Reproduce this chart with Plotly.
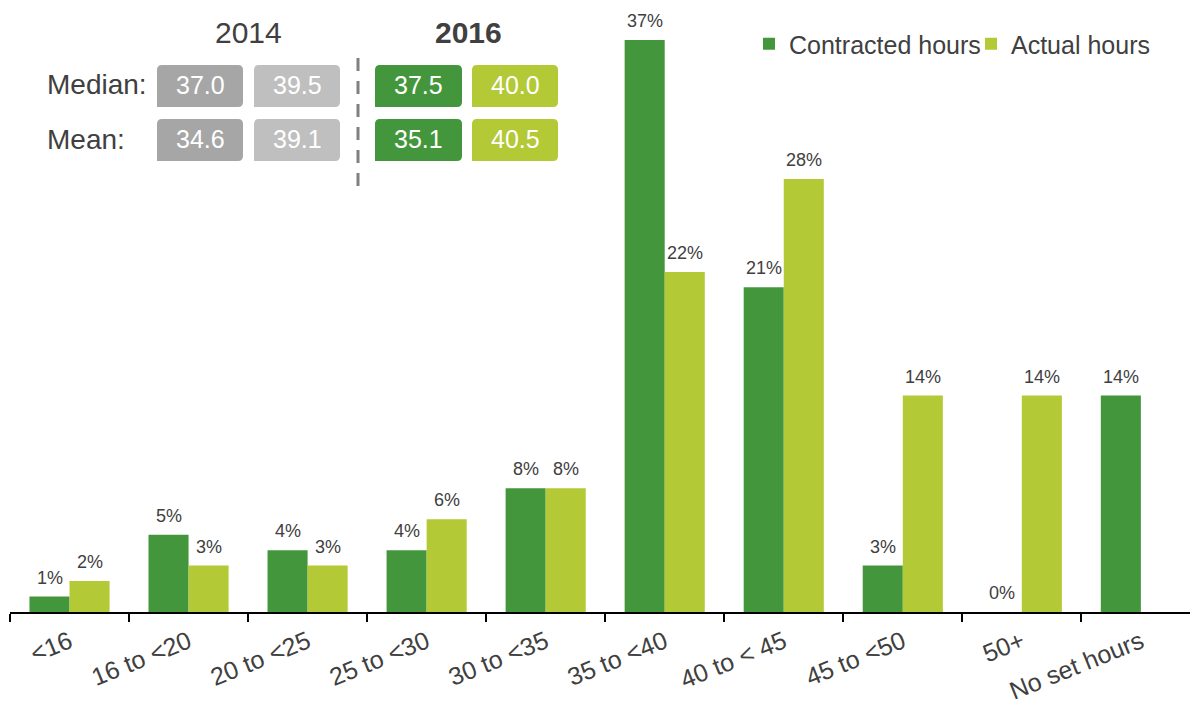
import plotly.graph_objects as go

categories = ["<16", "16 to <20", "20 to <25", "25 to <30", "30 to <35",
              "35 to <40", "40 to < 45", "45 to <50", "50+", "No set hours"]
contracted = [1, 5, 4, 4, 8, 37, 21, 3, 0, 14]
actual = [2, 3, 3, 6, 8, 22, 28, 14, 14, None]

years = ["2014", "2016"]
stat_labels = ["Median:", "Mean:"]
values_2014 = [[37.0, 39.5], [34.6, 39.1]]
values_2016 = [[37.5, 40.0], [35.1, 40.5]]

GREEN = "#43963C"
LIME = "#B3C936"
GRAY_D = "#A6A6A6"
GRAY_L = "#BFBFBF"
TXT = "#404040"
FONT = "Liberation Sans, Arial, sans-serif"

# page body has an 8px default margin; work in screen pixels
OFF = 8
W, H = 1198 - OFF, 707 - OFF
PLOT_L, PLOT_R, PLOT_T, PLOT_B = 10, 1198, 10, 612  # screen pixels
ML, MR = PLOT_L - OFF, 1198 - PLOT_R
MT, MB = PLOT_T - OFF, 707 - PLOT_B
PW = PLOT_R - PLOT_L
PH = PLOT_B - PLOT_T
PX_PER_PCT = 15.46
BAR_HALF = 20


def px(x):
    return (x - PLOT_L) / PW


def py(y):
    return (PLOT_B - y) / PH


def rounded_box(x0, y0, x1, y1, r=5):
    # rounded top-left, top-right, bottom-right; square bottom-left
    rx = r / PW
    ry = r / PH
    X0, X1 = px(x0), px(x1)
    Y0, Y1 = py(y0), py(y1)
    return (f"M {X0},{Y1} L {X0},{Y0 - ry} Q {X0},{Y0} {X0 + rx},{Y0} "
            f"L {X1 - rx},{Y0} Q {X1},{Y0} {X1},{Y0 - ry} "
            f"L {X1},{Y1 + ry} Q {X1},{Y1} {X1 - rx},{Y1} Z")


fig = go.Figure()
fig.add_trace(go.Bar(x=categories, y=contracted, name="Contracted hours",
                     marker=dict(color=GREEN, line=dict(width=0)), hoverinfo="x+y"))
fig.add_trace(go.Bar(x=categories, y=actual, name="Actual hours",
                     marker=dict(color=LIME, line=dict(width=0)), hoverinfo="x+y"))

shapes = []
annotations = []

# value labels above bars
for series, shift in ((contracted, -BAR_HALF), (actual, BAR_HALF)):
    for cat, v in zip(categories, series):
        if v is None:
            continue
        annotations.append(dict(x=cat, y=v, xref="x", yref="y", text=f"{v}%",
                                showarrow=False, xshift=shift, yshift=7,
                                xanchor="center", yanchor="bottom",
                                font=dict(size=18, color=TXT, family=FONT)))

# year headers
annotations.append(dict(x=px(248), y=py(32), xref="paper", yref="paper",
                        text=years[0], showarrow=False, xanchor="center", yanchor="middle",
                        font=dict(size=30, color=TXT, family=FONT)))
annotations.append(dict(x=px(468), y=py(32), xref="paper", yref="paper",
                        text=f"<b>{years[1]}</b>", showarrow=False,
                        xanchor="center", yanchor="middle",
                        font=dict(size=30, color=TXT, family=FONT)))

row_y = [(65, 107), (119, 161)]
col_x = [(157, 243), (254, 340), (375, 462), (472, 558)]
col_colors = [GRAY_D, GRAY_L, GREEN, LIME]

for ri, (ya, yb) in enumerate(row_y):
    annotations.append(dict(x=px(45), y=py((ya + yb) / 2 - 1), xref="paper", yref="paper",
                            text=stat_labels[ri], showarrow=False,
                            xanchor="left", yanchor="middle",
                            font=dict(size=28, color=TXT, family=FONT)))
    vals = values_2014[ri] + values_2016[ri]
    for ci, (xa, xb) in enumerate(col_x):
        shapes.append(dict(type="path", xref="paper", yref="paper",
                           path=rounded_box(xa, ya, xb, yb),
                           fillcolor=col_colors[ci], line=dict(width=0)))
        annotations.append(dict(x=px((xa + xb) / 2), y=py((ya + yb) / 2 - 1),
                                xref="paper", yref="paper",
                                text=f"{vals[ci]:.1f}", showarrow=False,
                                xanchor="center", yanchor="middle",
                                font=dict(size=25, color="white", family=FONT)))

shapes.append(dict(type="line", xref="paper", yref="paper",
                   x0=px(358), x1=px(358), y0=py(58), y1=py(190),
                   line=dict(color="#808080", width=3, dash="13px,10px")))

fig.update_layout(
    width=W, height=H,
    margin=dict(l=ML, r=MR, t=MT, b=MB, autoexpand=False),
    paper_bgcolor="white", plot_bgcolor="white",
    barmode="group", bargap=0.327, bargroupgap=0,
    font=dict(family=FONT, color=TXT),
    shapes=shapes, annotations=annotations,
    showlegend=True,
    legend=dict(orientation="h", x=px(749), y=py(44), xanchor="left", yanchor="middle",
                font=dict(size=25, color=TXT, family=FONT),
                bgcolor="rgba(0,0,0,0)", itemwidth=30, tracegroupgap=0,
                entrywidth=177, entrywidthmode="pixels"),
    xaxis=dict(showline=True, linecolor="black", linewidth=1.5,
               range=[-0.5, 9.48],
               ticks="outside", tickson="boundaries", ticklen=8, tickcolor="black",
               tickwidth=1.5, tickangle=-22, automargin=False, ticklabelstandoff=4,
               tickfont=dict(size=25, color=TXT, family=FONT),
               showgrid=False, zeroline=False),
    yaxis=dict(range=[0, PH / PX_PER_PCT], visible=False, showgrid=False, zeroline=False),
)

fig.write_html("out.html")
